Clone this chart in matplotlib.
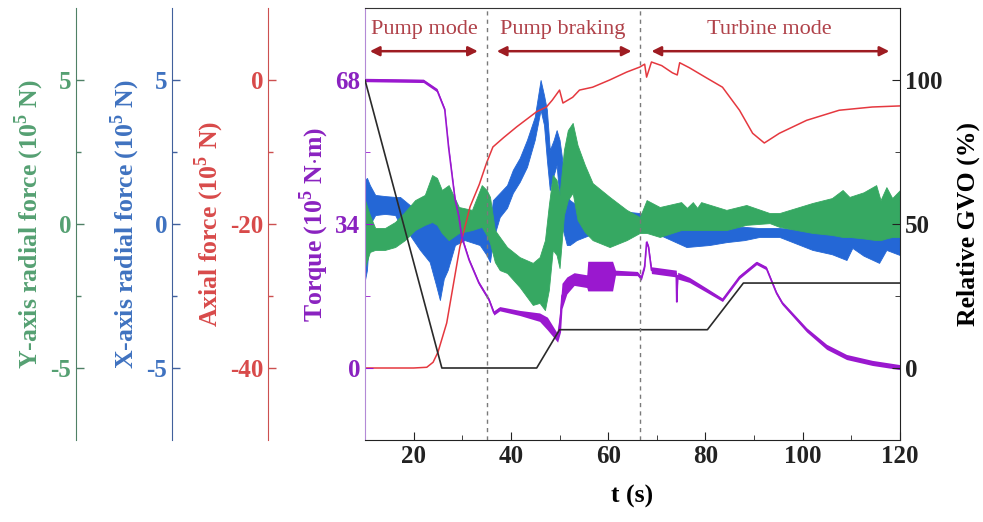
import matplotlib
matplotlib.use('Agg')
import matplotlib.pyplot as plt
from matplotlib.ticker import MultipleLocator, FixedLocator

plt.rcParams['font.family'] = ['Liberation Serif', 'DejaVu Serif']
plt.rcParams['font.weight'] = 'bold'
plt.rcParams['axes.labelweight'] = 'bold'
plt.rcParams['mathtext.fontset'] = 'custom'
plt.rcParams['mathtext.rm'] = 'Liberation Serif:bold'
plt.rcParams['mathtext.bf'] = 'Liberation Serif:bold'
plt.rcParams['axes.unicode_minus'] = False

# ---------------- data ----------------
t_gvo = [10, 25.8, 45.3, 50.0, 80.4, 87.8, 120]
gvo = [100, 0, 0, 13.3, 13.3, 29.5, 29.5]

t_axial = [10, 15, 20, 22.7, 24, 25, 26.8, 29.5, 31.6, 33.5, 35, 36.3, 38.5, 41.2, 45.3, 47.3,
           48.5, 50, 50.7, 52.7, 54.1, 56.8, 60.3, 63.8, 66.5, 67.5, 67.9, 68.9, 71, 73.2, 74.2,
           74.7, 76.7, 80.2, 83.5, 87, 89.7, 92.1, 95.2, 100.8, 107.5, 114.3, 120]
axial = [-40, -40, -40, -39.9, -39.2, -37.8, -33.75, -23.2, -17.6, -14.5, -11.5, -9.3, -8.0, -6.5,
         -4.4, -3.75, -2.8, -1.4, -3.2, -2.4, -1.4, -1.0, 0, 1.1, 1.8, 2.2, 0.4, 2.5, 2.0, 1.0, 0.7,
         2.4, 1.7, 0.3, -1.0, -4.2, -7.4, -8.75, -7.4, -5.6, -4.2, -3.75, -3.6]

t_torque = [10, 22, 24.8, 26.4, 27.2, 28.5, 29.3, 29.9, 31.4, 33.4, 35.5, 36.5, 37.7, 41.8, 45.9,
            47.5, 49.6, 50.2, 50.5, 51.5, 53, 55.6, 55.8, 60.9, 61.5, 66, 66.8, 67.5, 67.9, 68.3,
            68.9, 74, 74.1, 74.3, 76.7, 80.2, 83.5, 87, 90.5, 92.5, 94.6, 95.8, 100.8, 104.9, 109,
            114.3, 120]
torque = [68, 67.8, 65.6, 61, 52, 40, 35.7, 30.9, 25.5, 20.1, 16.1, 13.0, 14.0, 13.0, 12.0,
          10.5, 7.1, 12, 17, 19.5, 21, 20.5, 21.7, 21.7, 22.5, 22.3, 21.2, 24, 29.7, 28.5,
          23.1, 22.3, 15.6, 21.8, 20.8, 18.4, 16.1, 21.5, 24.8, 23.6, 17.7, 15.3, 9.0, 5.0, 2.6,
          1.2, 0.2]
torque_spread = [0.4, 0.4, 0.4, 0.4, 0.4, 0.4, 0.4, 0.4, 0.4, 0.4, 0.4, 0.5, 0.5, 0.6, 1.0,
                 1.5, 1.0, 3.5, 3.0, 2.0, 1.5, 1.5, 3.5, 3.5, 0.6, 0.5, 0.5, 0.5, 0.5, 0.5,
                 0.8, 0.8, 0.5, 0.8, 0.6, 0.5, 0.4, 0.4, 0.4, 0.4, 0.4, 0.4, 0.5, 0.6, 0.6,
                 0.6, 0.6]

t_xrad = [10.0, 10.4, 11.0, 12.1, 14.1, 16.2, 17.2, 19.2, 21.3, 23.3, 24.6, 25.4, 26.2, 27.0,
          28.5, 30.5, 33.6, 35.0, 35.7, 36.3, 37.7, 39.2, 40.4, 41.8, 43.3, 44.9, 46.1, 46.8,
          47.4, 48.0, 48.8, 49.4, 50.0, 50.7, 51.5, 52.1, 53.5, 56.2, 60.3, 66.5, 70.6, 76.1,
          80.8, 84.3, 88.0, 91.1, 95.2, 102.0, 106.0, 109.0, 110.2, 112.5, 115.7, 117.2, 120.0]
xrad_hi = [1.53, 1.60, 1.35, 1.01, 0.97, 0.94, 0.94, 0.66, 0.38, 0.31, 0.21, 0.07, 0.21, 0.31,
           0.49, 0.21, 0.31, 0.21, -0.03, 0.83, 1.08, 1.35, 1.88, 2.29, 2.92, 3.72, 5.00, 4.48,
           3.96, 2.57, 2.92, 3.26, 2.92, 2.05, 1.01, 0.83, 0.66, 0.66, 0.49, 0.38, 0.14, 0.07,
           -0.03, -0.07, -0.10, -0.14, -0.14, -0.21, -0.25, -0.28, -0.28, -0.30, -0.31, -0.33,
           -0.38]
xrad_lo = [-1.94, -1.60, -0.03, 0.31, 0.35, 0.31, -0.03, -0.38, -0.90, -1.32, -2.12, -2.64, -1.90,
           -1.60, -0.73, -0.56, -0.73, -1.08, -1.32, -0.56, 0.24, 0.56, 1.08, 1.46, 1.98, 2.92,
           3.96, 3.44, 2.22, 1.18, 1.70, 2.05, 0.83, -0.21, -0.73, -0.73, -0.56, -0.38, -0.21,
           -0.14, -0.38, -0.80, -0.73, -0.63, -0.56, -0.45, -0.45, -0.90, -1.05, -1.25, -0.83,
           -1.10, -1.35, -0.90, -1.08]

t_yrad = [10.0, 11.0, 12.1, 14.1, 16.2, 18.2, 20.3, 22.3, 23.8, 24.8, 25.8, 27.2, 29.3, 32.0,
          34.0, 35.0, 35.7, 36.7, 37.7, 39.2, 41.8, 44.5, 45.9, 47.0, 47.8, 48.6, 49.4, 50.0,
          50.9, 51.7, 52.7, 53.7, 55.2, 56.8, 60.3, 63.8, 66.5, 67.9, 70.6, 75.0, 76.2, 77.4,
          78.3, 79.1, 84.3, 88.4, 93.2, 95.2, 102.0, 106.0, 108.2, 109.6, 112.5, 115.1, 116.0,
          117.2, 118.4, 120.0]
yrad_hi = [0.83, 0.31, -0.14, -0.14, 0.07, 0.42, 0.83, 1.01, 1.70, 1.60, 1.18, 1.35, 0.59, 0.49,
           1.35, 1.18, 0.94, -0.21, -0.45, -0.80, -1.15, -1.35, -1.15, -0.56, 0.66, 1.70, 1.53,
           1.01, 2.57, 3.26, 3.51, 2.74, 2.05, 1.42, 0.94, 0.49, 0.24, 0.83, 0.59, 0.76, 0.56,
           0.76, 0.56, 0.76, 0.49, 0.66, 0.38, 0.38, 0.73, 0.90, 1.18, 0.94, 1.10, 1.35, 0.83,
           1.28, 0.90, 1.18]
yrad_lo = [-1.49, -0.97, -0.90, -0.90, -0.80, -0.56, -0.21, -0.03, 0.07, -0.03, -0.31, -0.56,
           -0.31, -0.21, -0.10, -0.38, -0.66, -1.32, -1.60, -1.70, -2.19, -2.81, -2.74, -2.99,
           -2.29, -0.90, -1.08, -1.53, 0.31, 0.83, 1.08, 0.14, -0.28, -0.56, -0.80, -0.56, -0.31,
           -0.31, -0.45, -0.21, -0.21, -0.21, -0.21, -0.21, -0.21, -0.03, 0.03, -0.10, -0.31,
           -0.38, -0.45, -0.45, -0.50, -0.56, -0.56, -0.50, -0.45, -0.45]

phase_bounds = [35.0, 66.5]
phase_names = ["Pump mode", "Pump braking", "Turbine mode"]
phase_text_x = [22.3, 50.7, 93.2]
phase_arrows = [(11.0, 33.2), (37.1, 64.8), (68.9, 117.8)]

# ---------------- styling ----------------
C_GREEN = '#36a862'
C_BLUE = '#2467d6'
C_RED = '#e5383f'
C_PURPLE = '#9a18cf'
L_GREEN = '#55a072'
L_BLUE = '#3f72c0'
L_RED = '#d84a4a'
L_PURPLE = '#8a22c0'
S_GREEN = '#4f8066'
S_BLUE = '#41609c'
S_RED = '#cc5050'
S_PURPLE = '#b38ad6'

FS = 18
FL = 18.5

fig = plt.figure(figsize=(9.83, 5.22), dpi=100)
fig.patch.set_facecolor('white')
ax = fig.add_axes([365 / 983, 82 / 522, 535 / 983, 432 / 522])

ax_x = ax.twinx()
ax_y = ax.twinx()
ax_a = ax.twinx()
ax_g = ax.twinx()

ax_x.set_zorder(1)
ax_y.set_zorder(2)
ax_a.set_zorder(3)
ax.set_zorder(4)
ax_g.set_zorder(5)
for a in (ax, ax_x, ax_y, ax_a, ax_g):
    a.patch.set_visible(False)


def setup_left(par, pos, spine_c, label_c, label, ylim, ticks, minor):
    for s in ('top', 'bottom', 'right'):
        par.spines[s].set_visible(False)
    par.spines['left'].set_visible(True)
    par.spines['left'].set_position(('axes', pos))
    par.spines['left'].set_color(spine_c)
    par.yaxis.set_label_position('left')
    par.yaxis.set_ticks_position('left')
    par.set_ylim(*ylim)
    par.yaxis.set_major_locator(FixedLocator(ticks))
    par.yaxis.set_minor_locator(FixedLocator(minor))
    par.tick_params(axis='y', which='both', direction='in', colors=spine_c,
                    labelcolor=label_c, labelsize=FS)
    par.tick_params(axis='y', which='major', length=6, width=1)
    par.tick_params(axis='y', which='minor', length=3.5, width=1)
    par.set_ylabel(label, color=label_c, fontsize=FL, labelpad=3)


setup_left(ax_y, -0.540, S_GREEN, L_GREEN, r'Y-axis radial force (10$^{5}$ N)',
           (-7.5, 7.5), [-5, 0, 5], [-2.5, 2.5])
setup_left(ax_x, -0.361, S_BLUE, L_BLUE, r'X-axis radial force (10$^{5}$ N)',
           (-7.5, 7.5), [-5, 0, 5], [-2.5, 2.5])
setup_left(ax_a, -0.181, S_RED, L_RED, r'Axial force (10$^{5}$ N)',
           (-50, 10), [-40, -20, 0], [-30, -10])

# host: torque
ax.set_xlim(10, 120)
ax.set_ylim(-17, 85)
ax.yaxis.set_major_locator(FixedLocator([0, 34, 68]))
ax.yaxis.set_minor_locator(FixedLocator([17, 51]))
ax.spines['left'].set_color(S_PURPLE)
ax.spines['right'].set_visible(False)
ax.spines['top'].set_color('#333333')
ax.spines['bottom'].set_color('#222222')
ax.tick_params(axis='y', which='both', direction='in', colors=C_PURPLE,
               labelcolor=L_PURPLE, labelsize=FS)
ax.tick_params(axis='y', which='major', length=6)
ax.tick_params(axis='y', which='minor', length=3.5)
ax.set_ylabel(r'Torque (10$^{5}$ N$\cdot$m)', color=L_PURPLE, fontsize=FL, labelpad=3)
ax.xaxis.set_major_locator(MultipleLocator(20))
ax.xaxis.set_minor_locator(MultipleLocator(10))
ax.tick_params(axis='x', which='both', direction='in', labelsize=FS, colors='#222222')
ax.tick_params(axis='x', which='major', length=6)
ax.tick_params(axis='x', which='minor', length=3.5)
ax.set_xlabel('t (s)', fontsize=FL, labelpad=12)

# right: GVO
for s in ('top', 'bottom', 'left'):
    ax_g.spines[s].set_visible(False)
ax_g.spines['right'].set_color('#222222')
ax_g.set_ylim(-25, 125)
ax_g.yaxis.set_major_locator(FixedLocator([0, 50, 100]))
ax_g.yaxis.set_minor_locator(FixedLocator([25, 75]))
ax_g.tick_params(axis='y', which='both', direction='in', labelsize=FS, colors='#222222')
ax_g.tick_params(axis='y', which='major', length=6)
ax_g.tick_params(axis='y', which='minor', length=3.5)
ax_g.set_ylabel('Relative GVO (%)', fontsize=FL, labelpad=10)

# ---------------- data drawing ----------------
ax_x.fill_between(t_xrad, xrad_lo, xrad_hi, color=C_BLUE, lw=0.6, edgecolor=C_BLUE)
ax_y.fill_between(t_yrad, yrad_lo, yrad_hi, color=C_GREEN, lw=0.6, edgecolor=C_GREEN)
ax_a.plot(t_axial, axial, color=C_RED, lw=1.1)

tq_lo = [v - s for v, s in zip(torque, torque_spread)]
tq_hi = [v + s for v, s in zip(torque, torque_spread)]
ax.fill_between(t_torque, tq_lo, tq_hi, color=C_PURPLE, lw=0)
ax.plot(t_torque, torque, color=C_PURPLE, lw=1.2)

ax_g.plot(t_gvo, gvo, color='#2a2a2a', lw=1.2)

for xb in phase_bounds:
    ax_g.axvline(xb, color='#7a7a7a', lw=1.0, ls=(0, (3, 3)))

for name, tx, (a0, a1) in zip(phase_names, phase_text_x, phase_arrows):
    ax_g.text(tx, 117.4, name, color='#b0424a', fontsize=16, fontweight='normal',
              ha='center', va='center')
    ax_g.annotate('', xy=(a0, 110.0), xytext=(a1, 110.0),
                  arrowprops=dict(arrowstyle='<|-|>', color='#9e1c22', lw=1.8,
                                  mutation_scale=14, shrinkA=0, shrinkB=0))

fig.savefig('out.png', dpi=100, facecolor='white')
